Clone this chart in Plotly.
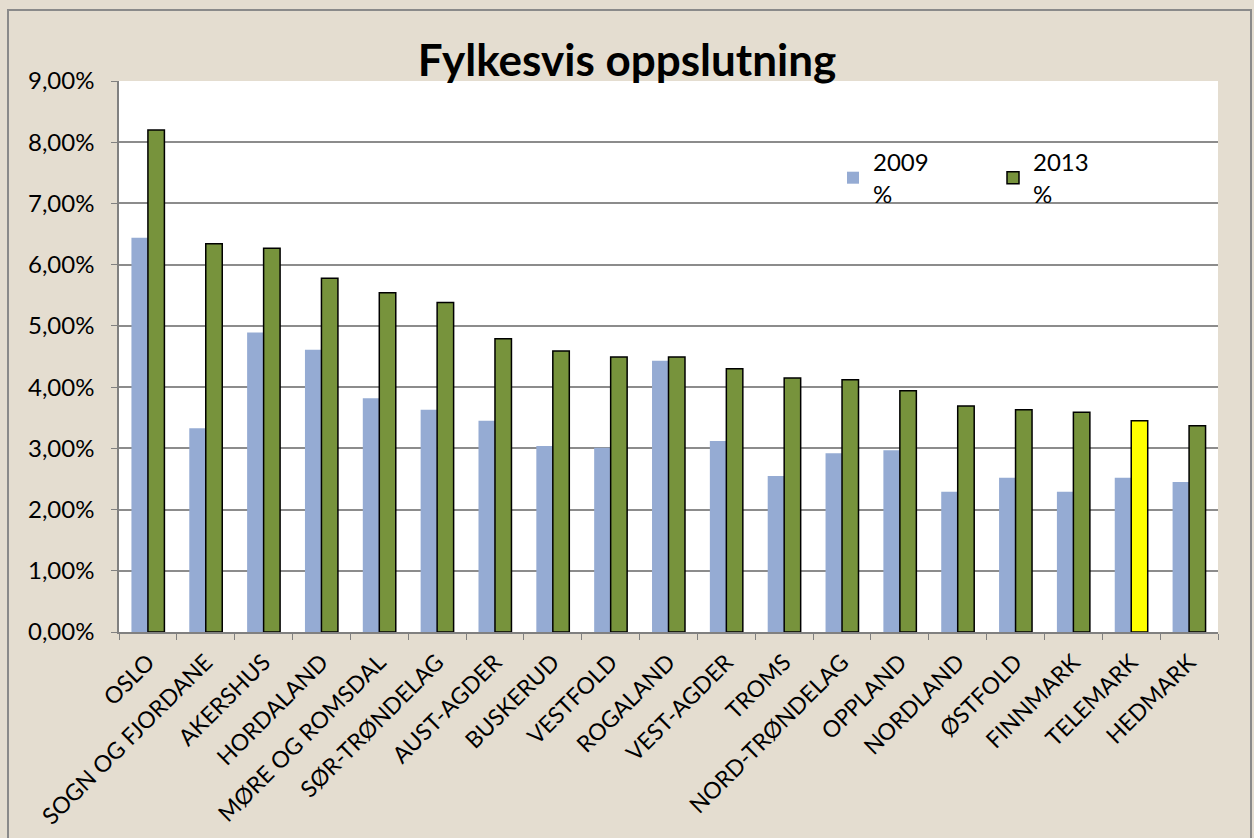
import plotly.graph_objects as go

fylker = ["OSLO", "SOGN OG FJORDANE", "AKERSHUS", "HORDALAND", "MØRE OG ROMSDAL",
          "SØR-TRØNDELAG", "AUST-AGDER", "BUSKERUD", "VESTFOLD", "ROGALAND",
          "VEST-AGDER", "TROMS", "NORD-TRØNDELAG", "OPPLAND", "NORDLAND",
          "ØSTFOLD", "FINNMARK", "TELEMARK", "HEDMARK"]
v2009 = [6.44, 3.33, 4.89, 4.61, 3.82, 3.63, 3.45, 3.04, 3.01, 4.43,
         3.12, 2.55, 2.92, 2.97, 2.29, 2.52, 2.29, 2.52, 2.45]
v2013 = [8.20, 6.34, 6.27, 5.78, 5.54, 5.38, 4.79, 4.59, 4.49, 4.49,
         4.30, 4.15, 4.12, 3.94, 3.69, 3.63, 3.59, 3.45, 3.37]
y_ticks = [0, 1, 2, 3, 4, 5, 6, 7, 8, 9]
y_tick_labels = ["0,00%", "1,00%", "2,00%", "3,00%", "4,00%",
                 "5,00%", "6,00%", "7,00%", "8,00%", "9,00%"]

green = "#77933c"
colors_2013 = ["#ffff00" if f == "TELEMARK" else green for f in fylker]

fig = go.Figure()
fig.add_trace(go.Bar(x=fylker, y=v2009, name="2009<br>%",
                     marker=dict(color="#95abd3", line=dict(width=0))))
fig.add_trace(go.Bar(x=fylker, y=v2013, name="2013<br>%",
                     marker=dict(color=colors_2013, line=dict(color="black", width=1.5))))

W, H = 1254, 838
L, R, T, B = 119, 36, 81, 206
pw, ph = W - L - R, H - T - B

def px(x):
    return (x - L) / pw

def py(y):
    return (H - B - y) / ph

FONT = "Lato, Open Sans, sans-serif"

fig.update_layout(
    width=W, height=H,
    autosize=False,
    margin=dict(l=L, r=R, t=T, b=B, autoexpand=False),
    paper_bgcolor="#e4ddd0",
    plot_bgcolor="white",
    barmode="group",
    bargap=0.43,
    bargroupgap=0,
    font=dict(family=FONT, color="black"),
    title=dict(text="<b>Fylkesvis oppslutning</b>", x=0.5, xanchor="center",
               y=1 - 61 / H, yanchor="middle",
               font=dict(size=44, family=FONT, color="black")),
    legend=dict(orientation="h", x=px(833), y=py(140), xanchor="left", yanchor="top",
                bgcolor="rgba(0,0,0,0)", font=dict(size=24, family=FONT), entrywidth=115,
                traceorder="normal"),
    xaxis=dict(showline=True, linecolor="#808080", linewidth=1.5,
               ticks="outside", tickson="boundaries", ticklen=6, tickcolor="#808080",
               tickangle=-45, tickfont=dict(size=23, family=FONT), showgrid=False,
               ticklabelstandoff=6),
    yaxis=dict(range=[0, 9], tickvals=y_ticks, ticktext=y_tick_labels,
               showline=True, linecolor="#808080", linewidth=1.5,
               ticks="outside", ticklen=6, tickcolor="#808080",
               gridcolor="#8c8c8c", gridwidth=1.5, tickfont=dict(size=24, family=FONT),
               zeroline=False, ticklabelstandoff=12),
    shapes=[dict(type="rect", xref="paper", yref="paper",
                 x0=px(8), x1=px(1251), y0=py(845), y1=py(10),
                 line=dict(color="#8a8a8a", width=2), layer="below")],
)

post = ("document.body.style.margin='0';document.body.style.padding='0';"
        "document.body.style.overflow='hidden';"
        "document.documentElement.style.overflow='hidden';")

fig.write_html("out.html", post_script=post, config={"displayModeBar": False})
